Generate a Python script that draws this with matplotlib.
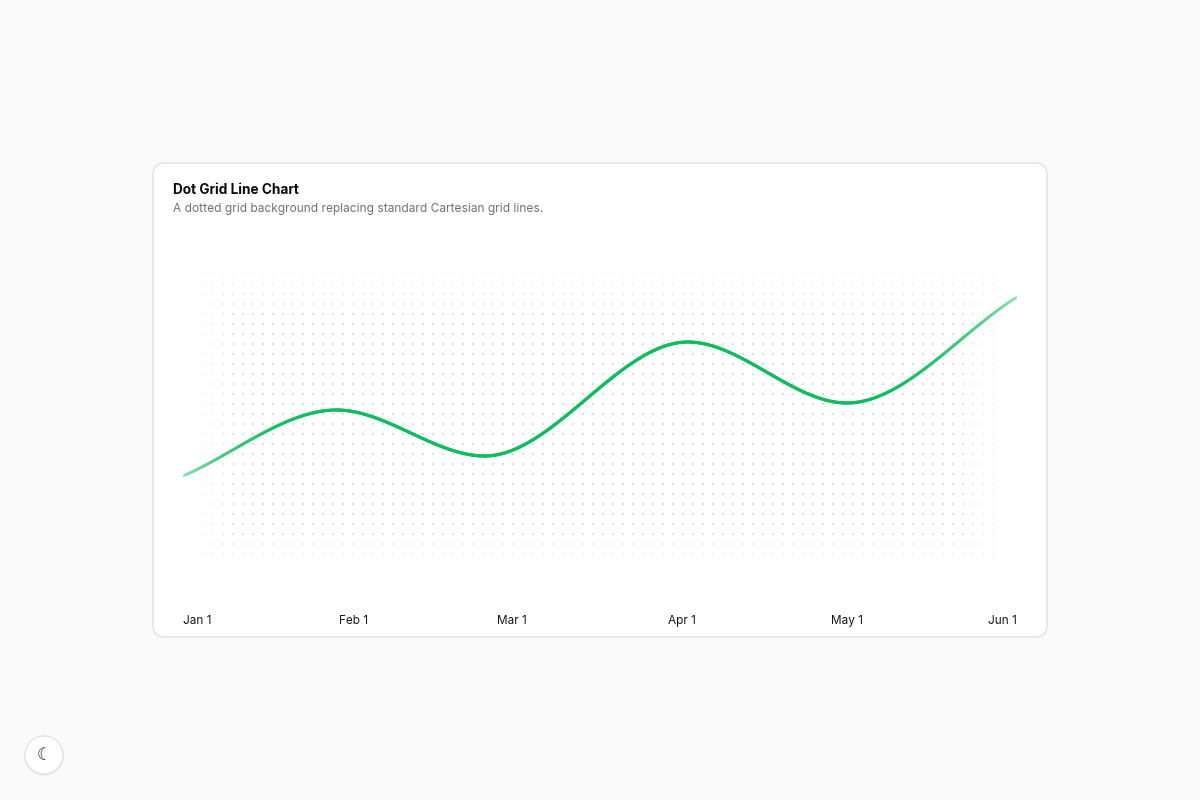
import numpy as np
import matplotlib
matplotlib.use("Agg")
import matplotlib.pyplot as plt
from matplotlib.collections import LineCollection
from matplotlib.patches import FancyBboxPatch, Circle
import matplotlib.dates as mdates
import datetime as dt

plt.rcParams['font.family'] = ['Inter', 'DejaVu Sans']

dates = ["2024-01-01", "2024-01-29", "2024-02-25", "2024-04-02", "2024-05-01", "2024-06-01"]
values = [124, 190, 144, 258, 197, 303]
tick_dates = ["2024-01-01", "2024-02-01", "2024-03-01", "2024-04-01", "2024-05-01", "2024-06-01"]
tick_labels = ["Jan 1", "Feb 1", "Mar 1", "Apr 1", "May 1", "Jun 1"]

W, H = 1200, 800
fig = plt.figure(figsize=(12, 8), dpi=100)
fig.patch.set_facecolor('#fafafa')

# background / decoration axes in pixel coords (y down)
bg = fig.add_axes([0, 0, 1, 1])
bg.set_xlim(0, W); bg.set_ylim(H, 0); bg.axis('off')
shadow = FancyBboxPatch((153, 164), 894, 474, boxstyle="round,pad=0,rounding_size=12",
                        fc='#000000', ec='none', alpha=0.04, zorder=1)
bg.add_patch(shadow)
card = FancyBboxPatch((153, 163), 894, 474, boxstyle="round,pad=0,rounding_size=12",
                      fc='white', ec='#e4e4e7', lw=1.2, zorder=2)
bg.add_patch(card)
bg.text(173, 190, "Dot Grid Line Chart", fontsize=9.8, fontweight='bold', color='#0a0a0a',
        va='center', ha='left', zorder=3)
bg.text(173, 209, "A dotted grid background replacing standard Cartesian grid lines.",
        fontsize=8.6, color='#71717a', va='center', ha='left', zorder=3)

# dot grid
xs = np.arange(193, 1010, 10.0)
ys = np.arange(264, 578, 10.0)
gx, gy = np.meshgrid(xs, ys)
d = np.minimum.reduce([gx - 185, 1012 - gx, gy - 258, 580 - gy])
alpha = np.clip(d / 70.0, 0, 1) * 0.9
cols = np.zeros((gx.size, 4)); cols[:, :3] = 0.82; cols[:, 3] = alpha.ravel()
bg.scatter(gx.ravel(), gy.ravel(), s=2.2, c=cols, linewidths=0, zorder=3)

# moon button
bg.add_patch(Circle((44, 756), 20, fc='black', alpha=0.05, zorder=2))
bg.add_patch(Circle((44, 755), 19, fc='white', ec='#e4e4e7', lw=1, zorder=3))
bg.text(44, 755, "☾", fontsize=12, ha='center', va='center', color='#27272a', zorder=4,
        family=['DejaVu Sans'])

# chart axes
ax = fig.add_axes([183 / W, 1 - 576 / H, 834 / W, 316 / H])
ax.patch.set_alpha(0)
x = mdates.date2num([dt.date.fromisoformat(s) for s in dates])
y = np.array(values, float)

def pchip(x, y, xn):
    h = np.diff(x); dl = np.diff(y) / h
    m = np.zeros_like(y)
    for i in range(1, len(y) - 1):
        if dl[i - 1] * dl[i] > 0:
            w1 = 2 * h[i] + h[i - 1]; w2 = h[i] + 2 * h[i - 1]
            m[i] = (w1 + w2) / (w1 / dl[i - 1] + w2 / dl[i])
    m[0] = dl[0]; m[-1] = dl[-1]
    idx = np.clip(np.searchsorted(x, xn) - 1, 0, len(h) - 1)
    t = (xn - x[idx]) / h[idx]
    h00 = 2*t**3 - 3*t**2 + 1; h10 = t**3 - 2*t**2 + t
    h01 = -2*t**3 + 3*t**2; h11 = t**3 - t**2
    return h00*y[idx] + h10*h[idx]*m[idx] + h01*y[idx+1] + h11*h[idx]*m[idx+1]

xn = np.linspace(x[0], x[-1], 600)
yn = pchip(x, y, xn)
pts = np.column_stack([xn, yn]).reshape(-1, 1, 2)
segs = np.concatenate([pts[:-1], pts[1:]], axis=1)
f = np.linspace(0, 1, len(segs))
a = np.clip(np.minimum(f / 0.18, (1 - f) / 0.2), 0, 1) * 0.8 + 0.2
c = np.zeros((len(segs), 4)); c[:, :3] = matplotlib.colors.to_rgb('#0dbd5e'); c[:, 3] = a
ax.add_collection(LineCollection(segs, colors=c, linewidths=2.3, capstyle='round'))
ax.set_xlim(x[0], x[-1]); ax.set_ylim(24, 340)
for s in ax.spines.values(): s.set_visible(False)
ax.set_yticks([])
tx = mdates.date2num([dt.date.fromisoformat(s) for s in tick_dates])
ax.set_xticks(tx)
ax.set_xticklabels(tick_labels, fontsize=8.5, color='#18181b')
ax.tick_params(axis='x', length=0, pad=28)
labs = ax.get_xticklabels()
labs[0].set_ha('left'); labs[-1].set_ha('right')

fig.savefig("out.png", dpi=100, facecolor=fig.get_facecolor())
